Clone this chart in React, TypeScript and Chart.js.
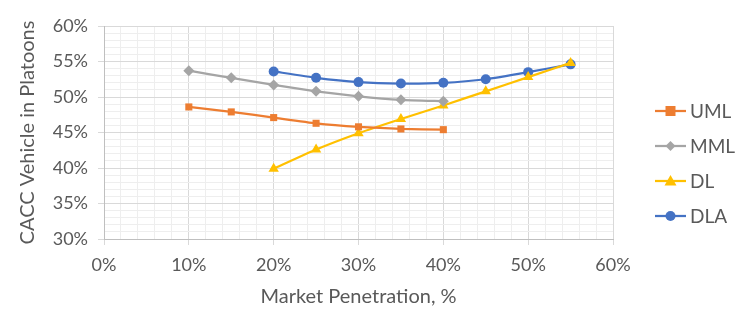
import React, { useEffect, useRef } from 'react';
import { Chart, registerables } from 'chart.js';

Chart.register(...registerables);

const seriesNames = ['UML', 'MML', 'DL', 'DLA'];
const seriesColors = ['#ED7D31', '#A5A5A5', '#FFC000', '#4472C4'];
const seriesMarkers = ['rect', 'rectRot', 'triangle', 'circle'];

const umlX = [10, 15, 20, 25, 30, 35, 40];
const umlY = [48.6, 47.9, 47.1, 46.3, 45.8, 45.5, 45.4];
const mmlX = [10, 15, 20, 25, 30, 35, 40];
const mmlY = [53.7, 52.7, 51.7, 50.8, 50.1, 49.6, 49.4];
const dlX = [20, 25, 30, 35, 40, 45, 50, 55];
const dlY = [39.9, 42.6, 44.9, 46.9, 48.8, 50.8, 52.8, 54.8];
const dlaX = [20, 25, 30, 35, 40, 45, 50, 55];
const dlaY = [53.6, 52.7, 52.1, 51.9, 52.0, 52.5, 53.5, 54.6];

const xTitle = 'Market Penetration, %';
const yTitle = 'CACC Vehicle in Platoons';

const FONT = 'Lato';
const TEXT_COLOR = '#595959';
const MAJOR_GRID = '#d9d9d9';
const MINOR_GRID = '#eeeeee';

function drawMarker(ctx: CanvasRenderingContext2D, style: string, x: number, y: number, color: string) {
  ctx.save();
  ctx.fillStyle = color;
  ctx.beginPath();
  if (style === 'rect') {
    ctx.rect(x - 5, y - 5, 10, 10);
  } else if (style === 'rectRot') {
    ctx.moveTo(x, y - 5);
    ctx.lineTo(x + 5, y);
    ctx.lineTo(x, y + 5);
    ctx.lineTo(x - 5, y);
    ctx.closePath();
  } else if (style === 'triangle') {
    ctx.moveTo(x, y - 6);
    ctx.lineTo(x + 6, y + 4.5);
    ctx.lineTo(x - 6, y + 4.5);
    ctx.closePath();
  } else {
    ctx.arc(x, y, 5, 0, Math.PI * 2);
  }
  ctx.fill();
  ctx.restore();
}

const legendPlugin = {
  id: 'sideLegend',
  afterDraw(chart: any) {
    const ctx: CanvasRenderingContext2D = chart.ctx;
    const area = chart.chartArea;
    const spacing = 35;
    const startY = chart.height / 2 - spacing * 1.5 - 1;
    const x0 = area.right + 42;
    ctx.save();
    seriesNames.forEach((name, i) => {
      const y = startY + i * spacing;
      ctx.strokeStyle = seriesColors[i];
      ctx.lineWidth = 2.25;
      ctx.beginPath();
      ctx.moveTo(x0, y);
      ctx.lineTo(x0 + 31, y);
      ctx.stroke();
      drawMarker(ctx, seriesMarkers[i], x0 + 15.5, y, seriesColors[i]);
      ctx.fillStyle = TEXT_COLOR;
      ctx.font = `19px ${FONT}`;
      ctx.textAlign = 'left';
      ctx.textBaseline = 'middle';
      ctx.fillText(name, x0 + 35, y + 1);
    });
    ctx.restore();
  },
};

function toPoints(xs: number[], ys: number[]) {
  return xs.map((x, i) => ({ x, y: ys[i] }));
}

export default function App() {
  const canvasRef = useRef<HTMLCanvasElement>(null);

  useEffect(() => {
    if (!canvasRef.current) return;
    const allData = [
      toPoints(umlX, umlY),
      toPoints(mmlX, mmlY),
      toPoints(dlX, dlY),
      toPoints(dlaX, dlaY),
    ];
    const radii = [5, 5.5, 6, 5];
    const chart = new Chart(canvasRef.current, {
      type: 'line',
      data: {
        datasets: seriesNames.map((name, i) => ({
          label: name,
          data: allData[i],
          borderColor: seriesColors[i],
          backgroundColor: seriesColors[i],
          pointBackgroundColor: seriesColors[i],
          pointBorderColor: seriesColors[i],
          pointBorderWidth: 0,
          pointStyle: seriesMarkers[i] as any,
          pointRadius: radii[i],
          borderWidth: 2.25,
          tension: 0.15,
          fill: false,
        })),
      },
      options: {
        animation: false,
        responsive: true,
        maintainAspectRatio: false,
        layout: { padding: { top: 26, right: 135, bottom: 0, left: 0 } },
        plugins: {
          legend: { display: false },
          tooltip: { enabled: false },
        },
        scales: {
          x: {
            type: 'linear',
            min: 0,
            max: 60,
            afterFit: (scale: any) => {
              scale.height = 90;
            },
            ticks: {
              stepSize: 2,
              autoSkip: false,
              maxRotation: 0,
              padding: 9,
              color: TEXT_COLOR,
              font: { family: FONT, size: 18 },
              callback: (v: any) => (Math.round(v) % 10 === 0 ? `${v}%` : ''),
            },
            grid: {
              color: (c: any) => (Math.round(c.tick?.value) % 10 === 0 ? MAJOR_GRID : MINOR_GRID),
              tickColor: (c: any) => (Math.round(c.tick?.value) % 10 === 0 ? MAJOR_GRID : 'rgba(0,0,0,0)'),
              tickLength: 6,
              lineWidth: 1,
            },
            border: { color: '#bfbfbf', width: 1 },
            title: {
              display: true,
              text: xTitle,
              color: TEXT_COLOR,
              font: { family: FONT, size: 20 },
              padding: { top: 0, bottom: 20 },
            },
          },
          y: {
            type: 'linear',
            min: 30,
            max: 60,
            afterFit: (scale: any) => {
              scale.width = 104;
            },
            ticks: {
              stepSize: 1,
              autoSkip: false,
              padding: 10,
              color: TEXT_COLOR,
              font: { family: FONT, size: 18 },
              callback: (v: any) => (Math.round(v) % 5 === 0 ? `${v}%` : ''),
            },
            grid: {
              color: (c: any) => (Math.round(c.tick?.value) % 5 === 0 ? MAJOR_GRID : MINOR_GRID),
              tickColor: (c: any) => (Math.round(c.tick?.value) % 5 === 0 ? MAJOR_GRID : 'rgba(0,0,0,0)'),
              tickLength: 6,
              lineWidth: 1,
            },
            border: { color: '#bfbfbf', width: 1 },
            title: {
              display: true,
              text: yTitle,
              color: TEXT_COLOR,
              font: { family: FONT, size: 20 },
              padding: { top: 16, bottom: 0 },
            },
          },
        },
      },
      plugins: [legendPlugin],
    });
    return () => chart.destroy();
  }, []);

  return (
    <div style={{ position: 'fixed', left: 0, top: 0, width: 748, height: 329, background: '#fff' }}>
      <canvas ref={canvasRef} />
    </div>
  );
}
